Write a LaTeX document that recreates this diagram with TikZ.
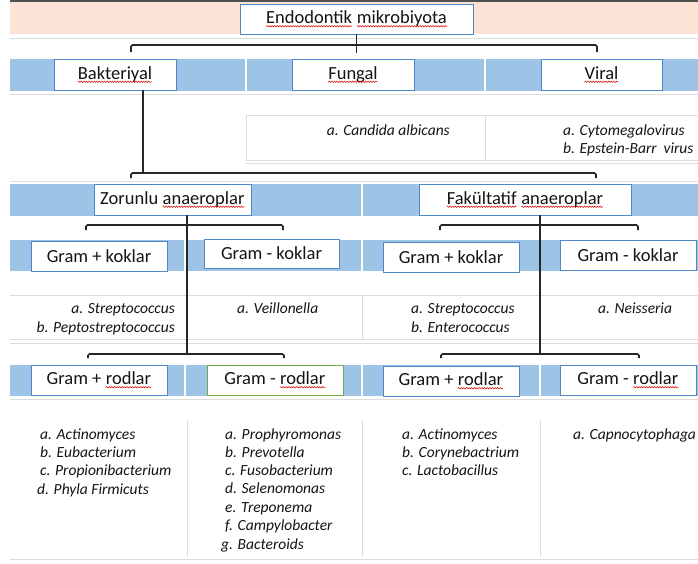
\documentclass[tikz,border=0pt]{standalone}
\usepackage{fontspec}
\setmainfont{Carlito}
\usetikzlibrary{calc,decorations.pathmorphing}
\newcommand\sqw[1]{\tikz[baseline=(w.base)]{\node[inner sep=0pt, outer sep=0pt, minimum width=0pt, minimum height=0pt, draw=none, fill=none, anchor=center] (w) {#1};
  \draw[red!85!black, line width=0.5pt, decorate, decoration={snake, amplitude=0.7pt, segment length=2.6pt}] ([yshift=-2.6pt]w.base west) -- ([yshift=-2.6pt]w.base east);}}
\definecolor{peach}{HTML}{FBE4D6}
\definecolor{bandblue}{HTML}{9DC3E6}
\definecolor{boxblue}{HTML}{4F86C6}
\definecolor{boxgreen}{HTML}{70AD47}
\definecolor{gridgray}{HTML}{DCDCDC}
\definecolor{lineblack}{HTML}{262626}
\definecolor{txt}{HTML}{141414}
\begin{document}
\begin{tikzpicture}[x=1pt,y=-1pt,
  bx/.style={draw=boxblue, fill=white, line width=0.9pt, inner sep=0pt, text=txt, font=\fontsize{18.5}{20}\selectfont},
  gbx/.style={bx, draw=boxgreen},
  lst/.style={font=\fontsize{15.5}{18}\selectfont\itshape, inner sep=0pt, text=txt},
  conn/.style={draw=lineblack, line width=1.6pt, rounded corners=1.5pt},
  vline/.style={draw=lineblack, line width=1.3pt},
  sepw/.style={draw=white, line width=2pt},
  grid/.style={draw=gridgray, line width=0.9pt}]
\useasboundingbox (0,0) rectangle (698,563);
\fill[white] (0,0) rectangle (698,563);

% ---------- background bands ----------
\fill[peach] (10,2) rectangle (698,34);
\draw[draw=lineblack!80, line width=1.2pt] (10,1) -- (698,1);
\draw[grid] (10,38) -- (698,38);

\fill[bandblue] (10,59) rectangle (698,91);
\draw[sepw] (246,59) -- (246,91);
\draw[sepw] (485,59) -- (485,91);
\draw[grid] (10,94) -- (698,94);

\fill[bandblue] (10,184) rectangle (698,216);
\draw[sepw] (362,184) -- (362,216);
\draw[grid] (10,181) -- (698,181);

\fill[bandblue] (10,240) rectangle (698,271);
\draw[sepw] (185,240) -- (185,271);
\draw[sepw] (362,240) -- (362,271);
\draw[sepw] (540,240) -- (540,271);

\fill[bandblue] (10,365) rectangle (698,396);
\draw[sepw] (185,365) -- (185,396);
\draw[sepw] (362,365) -- (362,396);
\draw[sepw] (540,365) -- (540,396);
\draw[grid] (10,399) -- (698,399);

% ---------- list tables ----------
\draw[grid] (246,115) rectangle (698,160);
\draw[grid] (485,115) -- (485,160);
\draw[grid] (246,163) -- (698,163);

\draw[grid] (10,295) -- (698,295);
\draw[grid] (10,339) -- (698,339);
\draw[grid] (362,295) -- (362,339);
\draw[grid] (10,343) -- (698,343);

\draw[grid] (187,420) -- (187,557);
\draw[grid] (362,420) -- (362,557);
\draw[grid] (540,420) -- (540,557);
\draw[grid] (10,559) -- (698,559);

% ---------- boxes ----------
\node[bx, minimum width=233, minimum height=30] (title) at (356.5,19) {\sqw{Endodontik} \sqw{mikrobiyota}};

\node[bx, minimum width=122, minimum height=31] (bak) at (115,74.5) {\sqw{Bakteriyal}};
\node[bx, minimum width=122, minimum height=31] (fun) at (353,74.5) {\sqw{Fungal}};
\node[bx, minimum width=121, minimum height=31] (vir) at (601.5,74.5) {\sqw{Viral}};

\node[bx, minimum width=157, minimum height=31] (zor) at (172.5,199.5) {Zorunlu \sqw{anaeroplar}};
\node[bx, minimum width=212, minimum height=31] (fak) at (525,199.5) {\sqw{Fakültatif} \sqw{anaeroplar}};

\node[bx, minimum width=136, minimum height=30] (gpk1) at (99,256) {Gram + koklar};
\node[bx, minimum width=135, minimum height=29] (gmk1) at (271.5,253.5) {Gram - koklar};
\node[bx, minimum width=136, minimum height=30] (gpk2) at (451,257) {Gram + koklar};
\node[bx, minimum width=136, minimum height=30] (gmk2) at (628,255) {Gram - koklar};

\node[bx, minimum width=136, minimum height=30] (gpr1) at (99,380) {Gram + \sqw{rodlar}};
\node[gbx, minimum width=136, minimum height=30] (gmr1) at (275,380) {Gram - \sqw{rodlar}};
\node[bx, minimum width=136, minimum height=30] (gpr2) at (451,381) {Gram + \sqw{rodlar}};
\node[bx, minimum width=136, minimum height=30] (gmr2) at (628,380) {Gram - \sqw{rodlar}};

% ---------- connectors ----------
\coordinate (b1l) at (131,52);
\coordinate (b1r) at (597,52);
\draw[conn] (title.south) -- ++(0,19);
\draw[conn] (b1l) -- ++(0,-7) -| (b1r);

\coordinate (v0) at (143,173);
\coordinate (b2l) at (131,178);
\coordinate (b2r) at (596,178);
\draw[conn] (bak.south -| v0) -- (v0);
\draw[conn] (b2l) -- ++(0,-5) -| (b2r);

\coordinate (v1) at (187,354);
\coordinate (v2) at (540,354);
\draw[vline] (zor.south -| v1) -- (v1);
\draw[vline] (fak.south -| v2) -- (v2);

\coordinate (k1l) at (86,230);
\coordinate (k1r) at (283,230);
\coordinate (k2l) at (440,230);
\coordinate (k2r) at (638,230);
\draw[conn] (k1l) -- ++(0,-5) -| (k1r);
\draw[conn] (k2l) -- ++(0,-5) -| (k2r);

\coordinate (r1l) at (88,358);
\coordinate (r1r) at (284,358);
\coordinate (r2l) at (441,358);
\coordinate (r2r) at (639,358);
\draw[conn] (r1l) -- ++(0,-4) -| (r1r);
\draw[conn] (r2l) -- ++(0,-4) -| (r2r);

% ---------- lists ----------
\node[lst, anchor=base east] (fl1) at (450,135) {a. Candida albicans};
\node[lst, anchor=base west] (vl1) at (563,135) {a. Cytomegalovirus};
\node[lst, anchor=base west] (vl2) at (563,153) {b. Epstein-Barr\ \ virus};

\node[lst, anchor=base east] (k1a) at (175,313) {a. Streptococcus};
\node[lst, anchor=base east] (k1b) at (175,332) {b. Peptostreptococcus};
\node[lst, anchor=base west] (k2a) at (237,313) {a. Veillonella};
\node[lst, anchor=base west] (k3a) at (411,313) {a. Streptococcus};
\node[lst, anchor=base west] (k3b) at (411,332) {b. Enterococcus};
\node[lst, anchor=base west] (k4a) at (598,313) {a. Neisseria};

\foreach \t [count=\i] in {a. Actinomyces, b. Eubacterium, c. Propionibacterium}
  \node[lst, anchor=base west] (r1-\i) at (40,{439+18.3*(\i-1)}) {\t};
\node[lst, anchor=base west] (r1-4) at (37,494) {d. Phyla Firmicuts};

\foreach \t [count=\i] in {a. Prophyromonas, b. Prevotella, c. Fusobacterium, d. Selenomonas, e. Treponema, f. Campylobacter}
  \node[lst, anchor=base west] (r2-\i) at (225,{439+18.3*(\i-1)}) {\t};
\node[lst, anchor=base west] (r2-7) at (221,549) {g. Bacteroids};

\foreach \t [count=\i] in {a. Actinomyces, b. Corynebactrium, c. Lactobacillus}
  \node[lst, anchor=base west] (r3-\i) at (402,{439+18.3*(\i-1)}) {\t};

\node[lst, anchor=base west] (r4-1) at (573,439) {a. Capnocytophaga};
\end{tikzpicture}
\end{document}
